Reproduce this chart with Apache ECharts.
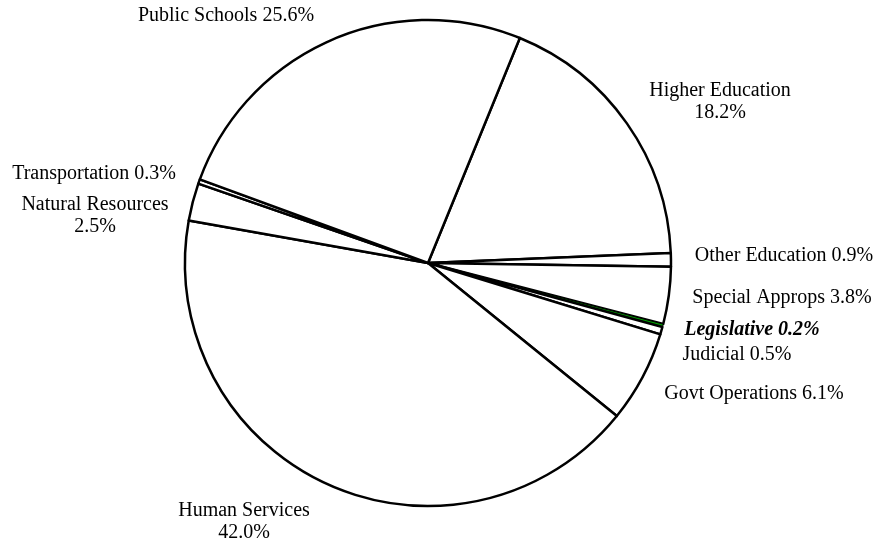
<!DOCTYPE html>
<html>
<head>
<meta charset="utf-8">
<script src="https://cdn.jsdelivr.net/npm/echarts@6/dist/echarts.min.js"></script>
<style>
html,body{margin:0;padding:0;background:#fff;}
#chart{width:892px;height:544px;}
</style>
</head>
<body>
<div id="chart"></div>
<script>
var categories = ['Higher Education','Other Education','Special Approps','Legislative','Judicial','Govt Operations','Human Services','Natural Resources','Transportation','Public Schools'];
var values = [18.2, 0.9, 3.8, 0.2, 0.5, 6.1, 42.0, 2.5, 0.3, 25.6];
var labelTexts = ['Higher Education\n18.2%','Other Education 0.9%','Special Approps 3.8%','Legislative 0.2%','Judicial 0.5%','Govt Operations 6.1%','Human Services\n42.0%','Natural Resources\n2.5%','Transportation 0.3%','Public Schools 25.6%'];

// label anchor layout (pixel positions of label centres)
var labelPos = [[720,102],[784,256],[782,298],[752,330],[737,355],[754,394],[244,522],[95,216],[94,174],[226,16]];

var chart = echarts.init(document.getElementById('chart'), null, {renderer:'canvas'});
var data = categories.map(function(c,i){
  var item = {name:c, value:values[i], label:{formatter:labelTexts[i]}};
  if (c === 'Legislative') {
    item.itemStyle = {color:'#00a000', borderWidth:1};
    item.label.fontWeight = 'bold';
    item.label.fontStyle = 'italic';
  }
  return item;
});
chart.setOption({
  animation:false,
  backgroundColor:'#ffffff',
  series:[{
    type:'pie',
    center:[428,263],
    radius:[0,243],
    startAngle:67.8,
    clockwise:true,
    avoidLabelOverlap:false,
    minAngle:0,
    itemStyle:{color:'#ffffff', borderColor:'#000000', borderWidth:2.5},
    label:{
      show:true,
      position:'outside',
      color:'#000',
      fontFamily:'Liberation Serif, Times New Roman, serif',
      fontSize:20,
      lineHeight:22,
      align:'center',
      verticalAlign:'middle'
    },
    labelLine:{show:false},
    labelLayout:function(p){
      var pos = labelPos[p.dataIndex];
      return {x:pos[0], y:pos[1], align:'center', verticalAlign:'middle'};
    },
    emphasis:{disabled:true},
    data:data
  }]
});
</script>
</body>
</html>
